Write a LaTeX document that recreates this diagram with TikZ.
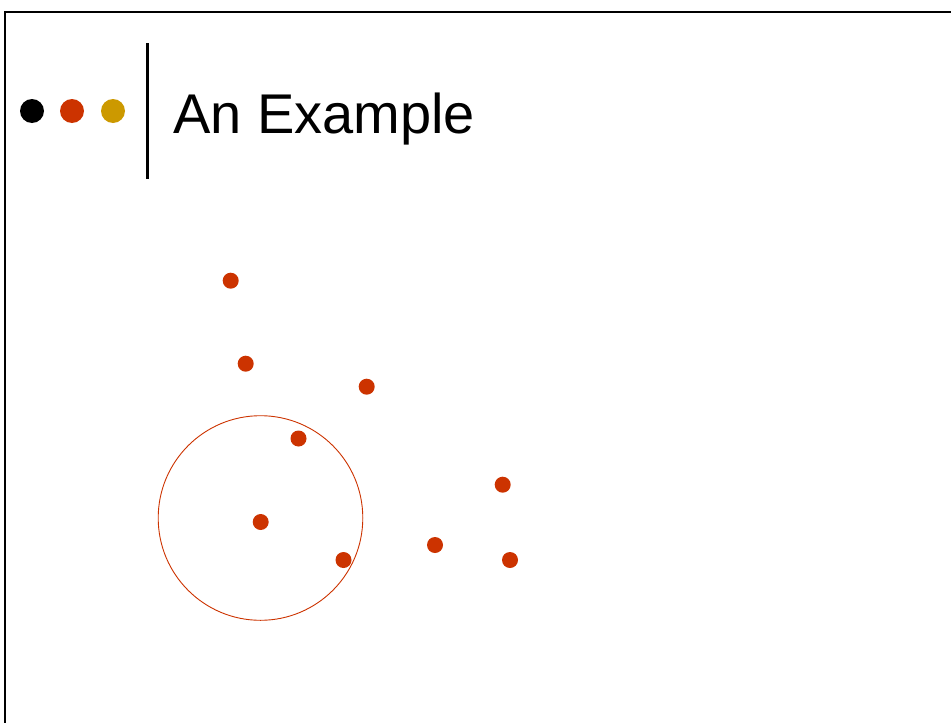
\documentclass[tikz,border=0pt]{standalone}
\usepackage{fontspec}
\newfontfamily\titlefont{Liberation Sans}
\usetikzlibrary{calc}
\definecolor{dotred}{RGB}{204,51,0}
\definecolor{dotgold}{RGB}{204,153,0}
\tikzset{
    frameline/.style={line width=2.2pt,black},
    titlebar/.style={line width=3pt,black},
    bullet/.style={circle,inner sep=0pt,minimum size=24pt},
    datapt/.style={circle,fill=dotred,inner sep=0pt,minimum size=16pt},
    ringline/.style={draw=dotred,line width=0.9pt},
    titletext/.style={inner sep=0pt,anchor=base west,font=\titlefont\fontsize{56}{60}\selectfont}
}

\begin{document}
\begin{tikzpicture}[x=1pt,y=-1pt]
    \useasboundingbox (0,0) rectangle (951,723);
    % Frame
    \draw[frameline] (5,723) -- (5,12) -- (951,12);
    % Header
    \node[bullet,fill=black] (b1) at (32,111) {};
    \node[bullet,fill=dotred] (b2) at (72,111) {};
    \node[bullet,fill=dotgold] (b3) at (113,111) {};
    \draw[titlebar] (147,43) -- (147,179);
    \node[titletext] (title) at (173,133) {An Example};
    % Points
    \node[datapt] (p1) at (230.7,280.7) {};
    \node[datapt] (p2) at (245.7,363.7) {};
    \node[datapt] (p3) at (366.7,386.7) {};
    \node[datapt] (p4) at (298.5,438.5) {};
    \node[datapt] (p5) at (260.7,522) {};
    \node[datapt] (p6) at (343.5,560) {};
    \node[datapt] (p7) at (435,545) {};
    \node[datapt] (p8) at (502.7,484.7) {};
    \node[datapt] (p9) at (510,560) {};
    % Neighbourhood
    \draw[ringline] (260.5,518) circle (102.3pt);
\end{tikzpicture}
\end{document}
